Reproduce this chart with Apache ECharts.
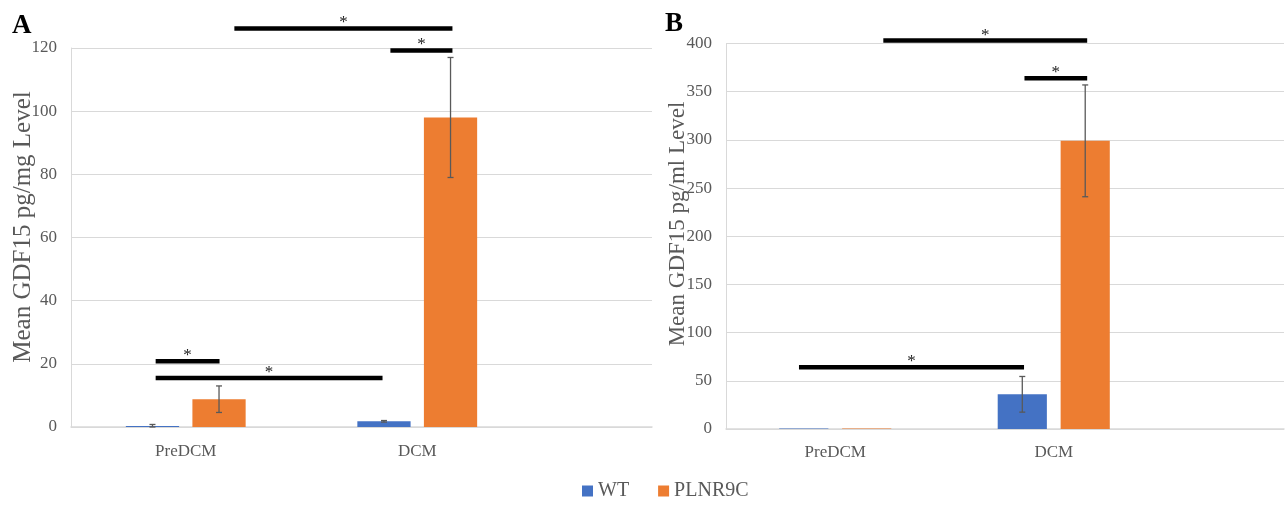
<!DOCTYPE html>
<html>
<head>
<meta charset="utf-8">
<script src="https://cdn.jsdelivr.net/npm/echarts@6/dist/echarts.min.js"></script>
<style>
html,body{margin:0;padding:0;background:#fff;}
#chart{width:1285px;height:506px;}
</style>
</head>
<body>
<div id="chart"></div>
<script>
// ---- data ----
var categories = ['PreDCM', 'DCM'];
var seriesNames = ['WT', 'PLNR9C'];
// Panel A: Mean GDF15 pg/mg
var aWT = [0.3, 1.8];
var aWTerr = [0.5, 0.25];
var aPL = [8.8, 98.0];
var aPLerr = [4.2, 19.0];
// Panel B: Mean GDF15 pg/ml
var bWT = [0.5, 36];
var bWTerr = [0, 18.5];
var bPL = [0.5, 299];
var bPLerr = [0, 58];
// significance brackets [fromX, toX, level] (x in category units, 0..2)
var sigA = [[0.71, 1.652, 126.2], [1.384, 1.652, 119.2], [0.37, 0.646, 20.8], [0.37, 1.35, 15.5]];
var sigB = [[0.72, 1.653, 403], [1.366, 1.653, 364], [0.334, 1.364, 64]];
var yTicksA = {min: 0, max: 120, interval: 20};
var yTicksB = {min: 0, max: 400, interval: 50};

var FONT = 'Liberation Serif';
var GRAY = '#595959';
var GRID = '#D9D9D9';
var BLUE = '#4472C4';
var ORANGE = '#ED7D31';

var chart = echarts.init(document.getElementById('chart'), null, {renderer: 'canvas'});

function errItems(vals, errs, s) {
  return vals.map(function (v, i) { return [i, v, errs[i], s]; });
}

function makeErrRender(barPct, gapPct) {
  return function (params, api) {
    var ci = api.value(0), m = api.value(1), e = api.value(2), s = api.value(3);
    if (!e) return null;
    var c = api.coord([ci, m]);
    var band = api.size([1, 0])[0];
    var w = band * barPct, g = w * gapPct;
    var x = c[0] + (s === 0 ? -1 : 1) * (w + g) / 2;
    var yt = api.coord([ci, m + e])[1];
    var yb = api.coord([ci, Math.max(m - e, 0)])[1];
    var st = {stroke: GRAY, lineWidth: 1.3};
    return {type: 'group', children: [
      {type: 'line', shape: {x1: x, y1: yt, x2: x, y2: yb}, style: st},
      {type: 'line', shape: {x1: x - 3, y1: yt, x2: x + 3, y2: yt}, style: st},
      {type: 'line', shape: {x1: x - 3, y1: yb, x2: x + 3, y2: yb}, style: st}
    ]};
  };
}

function sigRender(params, api) {
  var p1 = api.coord([api.value(0), api.value(2)]);
  var p2 = api.coord([api.value(1), api.value(2)]);
  return {type: 'group', children: [
    {type: 'line', shape: {x1: p1[0], y1: p1[1], x2: p2[0], y2: p2[1]}, style: {stroke: '#000', lineWidth: 4.5}},
    {type: 'text', x: (p1[0] + p2[0]) / 2, y: p1[1] + 3,
      style: {text: '*', fill: '#222', font: '17px "' + FONT + '"', align: 'center', verticalAlign: 'bottom'}}
  ]};
}

var hidden = {show: false};
var ySetup = function (t, gi, show) {
  return {
    type: 'value', gridIndex: gi, min: t.min, max: t.max, interval: t.interval,
    show: show,
    axisLine: {show: true, lineStyle: {color: GRID, width: 1}},
    axisTick: {show: false},
    splitLine: {show: true, lineStyle: {color: GRID, width: 1.2}},
    axisLabel: {show: true, color: GRAY, fontFamily: FONT, fontSize: 17, margin: 14}
  };
};

var option = {
  animation: false,
  backgroundColor: '#fff',
  grid: [
    {left: 71, right: 633, top: 48, bottom: 79},        // 0 A background
    {left: 70, width: 463, top: 48, bottom: 79},        // 1 A bars
    {left: 70, width: 463, top: 48, bottom: 79},        // 2 A brackets
    {left: 726, right: 1, top: 43.5, bottom: 77},       // 3 B background
    {left: 726, width: 437, top: 43.5, bottom: 77},     // 4 B bars
    {left: 726, width: 437, top: 43.5, bottom: 77}      // 5 B brackets
  ],
  xAxis: [
    {type: 'value', gridIndex: 0, min: 0, max: 1, axisLine: {show: true, onZero: false, lineStyle: {color: GRID, width: 1.5}}, axisTick: hidden, axisLabel: hidden, splitLine: hidden},
    {type: 'category', gridIndex: 1, data: categories, axisLine: hidden, axisTick: hidden,
      axisLabel: {color: GRAY, fontFamily: FONT, fontSize: 17, margin: 16}},
    {type: 'value', gridIndex: 2, min: 0, max: 2, show: false},
    {type: 'value', gridIndex: 3, min: 0, max: 1, axisLine: {show: true, onZero: false, lineStyle: {color: GRID, width: 1.5}}, axisTick: hidden, axisLabel: hidden, splitLine: hidden},
    {type: 'category', gridIndex: 4, data: categories, axisLine: hidden, axisTick: hidden,
      axisLabel: {color: GRAY, fontFamily: FONT, fontSize: 17, margin: 15}},
    {type: 'value', gridIndex: 5, min: 0, max: 2, show: false}
  ],
  yAxis: [
    ySetup(yTicksA, 0, true),
    {type: 'value', gridIndex: 1, min: yTicksA.min, max: yTicksA.max, show: false, splitLine: hidden},
    {type: 'value', gridIndex: 2, min: yTicksA.min, max: yTicksA.max, show: false, splitLine: hidden},
    ySetup(yTicksB, 3, true),
    {type: 'value', gridIndex: 4, min: yTicksB.min, max: yTicksB.max, show: false, splitLine: hidden},
    {type: 'value', gridIndex: 5, min: yTicksB.min, max: yTicksB.max, show: false, splitLine: hidden}
  ],
  legend: {
    data: seriesNames,
    left: 577, top: 476,
    icon: 'rect', itemWidth: 11, itemHeight: 11, itemGap: 29,
    textStyle: {color: GRAY, fontFamily: FONT, fontSize: 20}
  },
  graphic: [
    {type: 'text', left: 12, top: 13, style: {text: 'A', font: 'bold 27px "' + FONT + '"', fill: '#000'}},
    {type: 'text', left: 665, top: 11, style: {text: 'B', font: 'bold 27px "' + FONT + '"', fill: '#000'}},
    {type: 'text', x: 23, y: 227, rotation: Math.PI / 2,
      style: {text: 'Mean GDF15 pg/mg Level', font: '25px "' + FONT + '"', fill: GRAY, align: 'center', verticalAlign: 'middle'}},
    {type: 'text', x: 678, y: 224, rotation: Math.PI / 2,
      style: {text: 'Mean GDF15 pg/ml Level', font: '23px "' + FONT + '"', fill: GRAY, align: 'center', verticalAlign: 'middle'}}
  ],
  series: [
    {name: 'WT', type: 'bar', xAxisIndex: 1, yAxisIndex: 1, data: aWT, barWidth: '23%', barGap: '25%', itemStyle: {color: BLUE}},
    {name: 'PLNR9C', type: 'bar', xAxisIndex: 1, yAxisIndex: 1, data: aPL, barWidth: '23%', barGap: '25%', itemStyle: {color: ORANGE}},
    {type: 'custom', xAxisIndex: 1, yAxisIndex: 1, renderItem: makeErrRender(0.23, 0.25),
      data: errItems(aWT, aWTerr, 0).concat(errItems(aPL, aPLerr, 1)), z: 5},
    {type: 'custom', xAxisIndex: 2, yAxisIndex: 2, renderItem: sigRender, data: sigA, clip: false, z: 6},
    {name: 'WT', type: 'bar', xAxisIndex: 4, yAxisIndex: 4, data: bWT, barWidth: '22.5%', barGap: '28%', itemStyle: {color: BLUE}},
    {name: 'PLNR9C', type: 'bar', xAxisIndex: 4, yAxisIndex: 4, data: bPL, barWidth: '22.5%', barGap: '28%', itemStyle: {color: ORANGE}},
    {type: 'custom', xAxisIndex: 4, yAxisIndex: 4, renderItem: makeErrRender(0.225, 0.28),
      data: errItems(bWT, bWTerr, 0).concat(errItems(bPL, bPLerr, 1)), z: 5},
    {type: 'custom', xAxisIndex: 5, yAxisIndex: 5, renderItem: sigRender, data: sigB, clip: false, z: 6}
  ]
};
chart.setOption(option);
</script>
</body>
</html>
